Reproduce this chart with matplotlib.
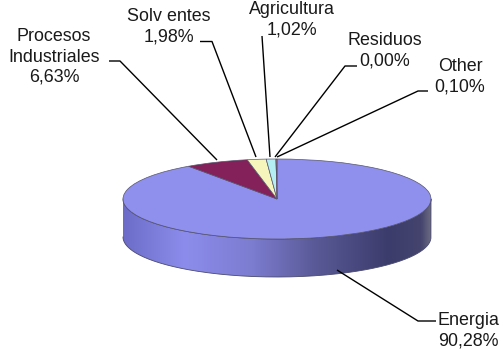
import numpy as np
import matplotlib
matplotlib.use('Agg')
import matplotlib.pyplot as plt
from matplotlib.colors import LinearSegmentedColormap
from matplotlib.patches import PathPatch
from matplotlib.path import Path

plt.rcParams['font.family'] = ['Liberation Sans', 'DejaVu Sans']

categories = ['Energia', 'Procesos\nIndustriales', 'Solv entes', 'Agricultura', 'Residuos', 'Other']
values = [90.28, 6.63, 1.98, 1.02, 0.00, 0.10]
colors = ['#8f8fee', '#84205a', '#f6f6bc', '#b4eef2', '#660066', '#ff8080']

W, H = 503, 349
cx, cy, a, b, depth = 277, 199, 154, 40, 38

# label centre, then the elbow line running in towards the pie
label_pos = [(468, 331), (54, 57), (169, 27), (292, 20), (385, 51), (460, 77)]
leaders = [
    [(337, 270), (418, 321), (436, 321)],
    [(109, 61), (120, 61), (217, 160)],
    [(200, 41.5), (212, 41.5), (256, 157)],
    [(262, 36), (270, 157)],
    [(357, 66), (345, 66), (275, 157)],
    [(428, 91), (418, 91), (277, 157)],
]

fig = plt.figure(figsize=(W / 100, H / 100), dpi=100)
ax = fig.add_axes([0, 0, 1, 1])
ax.axis('off')

# side wall of the disc, gradient clipped to the rim outline
t = np.linspace(np.pi, 0, 200)
top_x = cx + a * np.cos(t)
top_y = cy + b * np.sin(t)
rim = np.vstack([np.column_stack([top_x, top_y]),
                 np.column_stack([top_x[::-1], top_y[::-1] + depth])])
rim_path = Path(np.vstack([rim, rim[0]]), closed=True)
shade = LinearSegmentedColormap.from_list('rim', [
    (0.0, '#6c6cc8'), (0.2, '#8c8cec'), (0.42, '#7c7cd0'),
    (0.62, '#5a5a98'), (0.86, '#3c3c6c'), (0.97, '#44446e'), (1.0, '#6a6a80')])
grad = ax.imshow(np.linspace(0, 1, 256).reshape(1, -1), cmap=shade, aspect='auto',
                 extent=[cx - a, cx + a, cy + b + depth, cy - b], zorder=1)
clip = PathPatch(rim_path, transform=ax.transData, facecolor='none', edgecolor='none')
ax.add_patch(clip)
grad.set_clip_path(clip)
ax.plot(rim[:, 0], rim[:, 1], color='#4a4a70', lw=0.6, zorder=2)
ax.set_xlim(0, W)
ax.set_ylim(H, 0)

# pie top, squashed into an ellipse by its own axes
pie_ax = fig.add_axes([(cx - a) / W, 1 - (cy + b) / H, 2 * a / W, 2 * b / H])
pie_ax.pie(values, colors=colors, startangle=90, counterclock=False,
           wedgeprops={'edgecolor': '#55556e', 'linewidth': 0.5, 'clip_on': False})
pie_ax.set_aspect('auto')
pie_ax.set_xlim(-1, 1)
pie_ax.set_ylim(-1, 1)
pie_ax.patch.set_visible(False)

overlay = fig.add_axes([0, 0, 1, 1], sharex=ax, sharey=ax)
overlay.axis('off')
for pts in leaders:
    xs, ys = zip(*pts)
    overlay.plot(xs, ys, color='black', lw=1.0, solid_capstyle='butt')
for name, val, (x, y) in zip(categories, values, label_pos):
    txt = f'{name}\n{val:.2f}%'.replace('.', ',')
    overlay.text(x, y, txt, ha='center', va='center', fontsize=12.9,
                 color='#1a1a1a', linespacing=1.25)

fig.savefig('out.png', dpi=100)
